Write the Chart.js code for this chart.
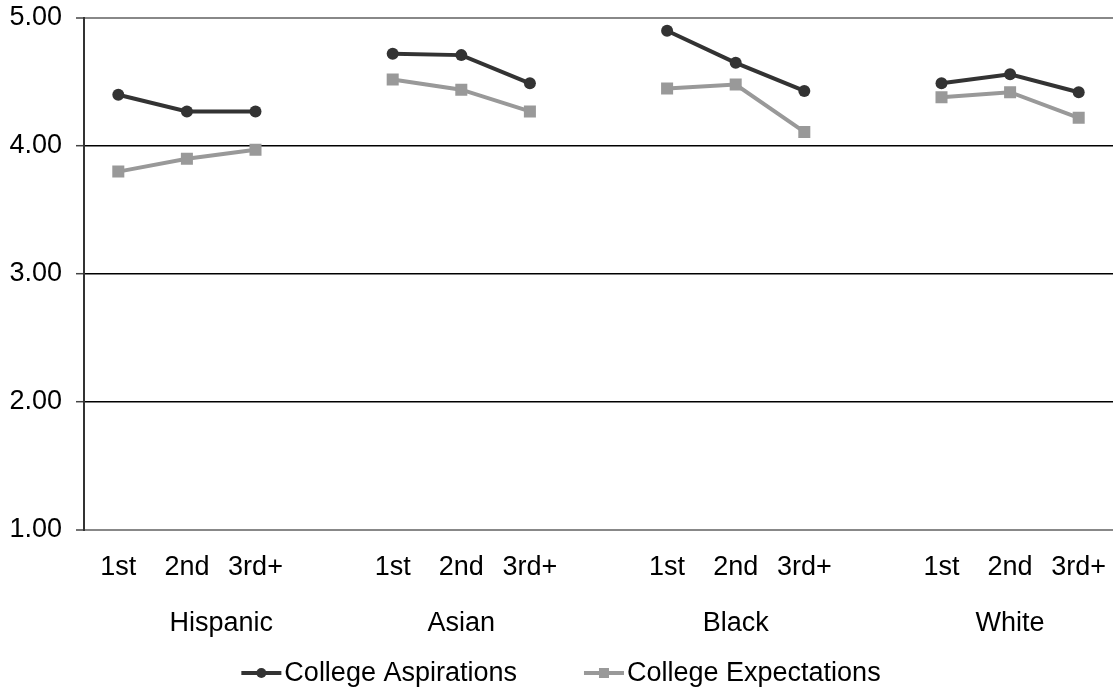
<!DOCTYPE html>
<html>
<head>
<meta charset="utf-8">
<style>
  html, body { margin: 0; padding: 0; background: #ffffff; }
  #wrap { position: relative; width: 1113px; height: 688px; }
</style>
<script src="https://cdn.jsdelivr.net/npm/chart.js@4.4.1/dist/chart.umd.min.js"></script>
</head>
<body>
<div id="wrap"><canvas id="chart" width="1113" height="688"></canvas></div>
<script>
// Mean college aspirations / expectations by race-ethnicity and immigrant generation
const groups = ['Hispanic', 'Asian', 'Black', 'White'];
const generations = ['1st', '2nd', '3rd+'];
const aspirations = [4.40, 4.27, 4.27, 4.72, 4.71, 4.49, 4.90, 4.65, 4.43, 4.49, 4.56, 4.42];
const expectations = [3.80, 3.90, 3.97, 4.52, 4.44, 4.27, 4.45, 4.48, 4.11, 4.38, 4.42, 4.22];
const yTicks = [1, 2, 3, 4, 5];

const FONT = '"Liberation Sans", Arial, sans-serif';
const FONT_SIZE = 27;
const ASP_COLOR = '#333333';
const EXP_COLOR = '#999999';

// Lay the groups out on one category axis with an empty slot between groups,
// so each group's line is drawn separately.
const labels = [];
const aspData = [];
const expData = [];
const groupSlots = [];
groups.forEach((g, gi) => {
  const first = labels.length;
  generations.forEach((gen, k) => {
    labels.push(gen);
    aspData.push(aspirations[gi * generations.length + k]);
    expData.push(expectations[gi * generations.length + k]);
  });
  let last = labels.length - 1;
  if (gi < groups.length - 1) {
    labels.push('');
    aspData.push(null);
    expData.push(null);
    if (gi === 0) last = labels.length - 1;
  }
  groupSlots.push([first, last]);
});

// Group names under the generation labels
const groupLabels = {
  id: 'groupLabels',
  afterDraw(chart) {
    const ctx = chart.ctx;
    const x = chart.scales.x;
    ctx.save();
    ctx.font = FONT_SIZE + 'px ' + FONT;
    ctx.fillStyle = '#000000';
    ctx.textAlign = 'center';
    ctx.textBaseline = 'alphabetic';
    groups.forEach((g, gi) => {
      const [a, b] = groupSlots[gi];
      const cx = (x.getPixelForValue(a) + x.getPixelForValue(b)) / 2;
      ctx.fillText(g, cx, 631);
    });
    ctx.restore();
  }
};

// Legend with line-and-marker swatches
const lineLegend = {
  id: 'lineLegend',
  afterDraw(chart) {
    const ctx = chart.ctx;
    const items = chart.data.datasets;
    ctx.save();
    ctx.font = FONT_SIZE + 'px ' + FONT;
    const swatch = 40, gap = 3, itemGap = 67;
    const widths = items.map(d => swatch + gap + ctx.measureText(d.label).width);
    const total = widths.reduce((s, w) => s + w, 0) + itemGap * (items.length - 1);
    let x0 = 561 - total / 2;
    const y = 673;
    items.forEach((d, i) => {
      ctx.strokeStyle = d.borderColor;
      ctx.lineWidth = 4;
      ctx.beginPath();
      ctx.moveTo(x0, y);
      ctx.lineTo(x0 + swatch, y);
      ctx.stroke();
      ctx.fillStyle = d.borderColor;
      const mx = x0 + swatch / 2;
      if (d.pointStyle === 'rect') {
        ctx.fillRect(mx - 5, y - 5, 10, 10);
      } else {
        ctx.beginPath();
        ctx.arc(mx, y, 5, 0, Math.PI * 2);
        ctx.fill();
      }
      ctx.fillStyle = '#000000';
      ctx.textAlign = 'left';
      ctx.textBaseline = 'middle';
      ctx.fillText(d.label, x0 + swatch + gap, y + 1);
      x0 += widths[i] + itemGap;
    });
    ctx.restore();
  }
};

new Chart(document.getElementById('chart'), {
  type: 'line',
  data: {
    labels: labels,
    datasets: [
      {
        label: 'College Aspirations',
        data: aspData,
        borderColor: ASP_COLOR,
        backgroundColor: ASP_COLOR,
        borderWidth: 4,
        pointStyle: 'circle',
        pointRadius: 6,
        pointBorderWidth: 0,
        spanGaps: false,
        tension: 0
      },
      {
        label: 'College Expectations',
        data: expData,
        borderColor: EXP_COLOR,
        backgroundColor: EXP_COLOR,
        borderWidth: 4,
        pointStyle: 'rect',
        pointRadius: 8.5,
        pointBorderWidth: 0,
        spanGaps: false,
        tension: 0
      }
    ]
  },
  options: {
    responsive: false,
    animation: false,
    layout: { autoPadding: false, padding: { top: 18, right: 0, bottom: 0, left: 0 } },
    plugins: {
      legend: { display: false },
      tooltip: { enabled: false }
    },
    scales: {
      x: {
        type: 'category',
        offset: true,
        grid: { display: false, drawTicks: false },
        border: { display: true, color: '#888888', width: 2 },
        ticks: {
          font: { family: FONT, size: FONT_SIZE },
          color: '#000000',
          padding: 21,
          autoSkip: false,
          maxRotation: 0
        },
        afterFit(scale) {
          scale.height = 158;
          scale.paddingLeft = 0;
          scale.paddingRight = 0;
        }
      },
      y: {
        min: 1,
        max: 5,
        afterBuildTicks(scale) { scale.ticks = yTicks.map(v => ({ value: v })); },
        grid: {
          color: ctx => (ctx.tick && (ctx.tick.value === 5 || ctx.tick.value === 1)) ? '#888888' : '#000000',
          lineWidth: ctx => (ctx.tick && (ctx.tick.value === 5 || ctx.tick.value === 1)) ? 2 : 1.4,
          tickColor: '#444444',
          tickLength: 8,
          tickWidth: 1.5
        },
        border: { display: true, color: '#333333', width: 2 },
        ticks: {
          font: { family: FONT, size: FONT_SIZE },
          color: '#000000',
          padding: 14,
          callback: v => Number(v).toFixed(2)
        },
        afterFit(scale) {
          scale.width = 84;
          scale.paddingTop = 0;
          scale.paddingBottom = 0;
        }
      }
    }
  },
  plugins: [groupLabels, lineLegend]
});
</script>
</body>
</html>
